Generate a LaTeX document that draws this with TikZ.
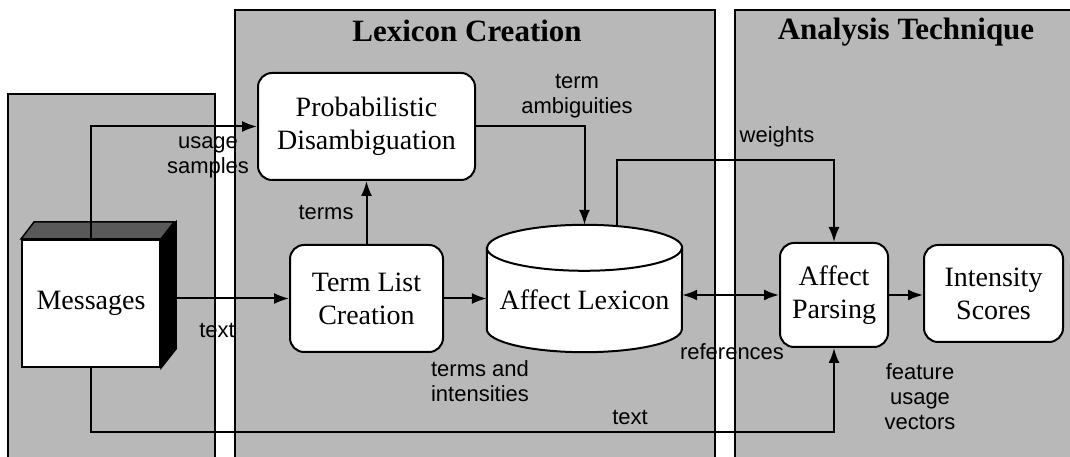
\documentclass[tikz,border=0pt]{standalone}
\usepackage{fontspec}
\setmainfont{Liberation Serif}
\setsansfont{Liberation Sans}
\usetikzlibrary{arrows.meta}
\begin{document}
\begin{tikzpicture}[x=1pt,y=1pt,
  panel/.style={fill=black!28, draw=none},
  border/.style={line width=2pt},
  box/.style={draw, line width=2pt, fill=white, rounded corners=14pt,
    font=\fontsize{28}{33}\selectfont, align=center, inner sep=0pt},
  plain/.style={font=\fontsize{28}{33}\selectfont, align=center, inner sep=0pt},
  lbl/.style={font=\sffamily\fontsize{22}{25}\selectfont, align=center, inner sep=0pt},
  conn/.style={line width=2pt, -{Latex[length=15pt,width=11pt]}},
  ttl/.style={font=\bfseries\fontsize{31}{36}\selectfont, inner sep=0pt}]
\useasboundingbox (0,0) rectangle (1070,457);
\clip (0,0) rectangle (1070,457);
% panels
\fill[panel] (8,-3) rectangle (215,363);
\draw[border] (8,-3) -- (8,363) -- (215,363) -- (215,-3);
\fill[panel] (235,-3) rectangle (715,447);
\draw[border] (235,-3) -- (235,447) -- (715,447) -- (715,-3);
\fill[panel] (735,-3) rectangle (1080,447);
\draw[border] (735,-3) -- (735,447) -- (1080,447);
% titles
\node[ttl] (t1) at (467,426) {Lexicon Creation};
\node[ttl] (t2) at (906,425) {Analysis Technique};
% Messages 3D box
\node[draw, line width=2pt, fill=white, minimum width=138pt, minimum height=127pt,
  inner sep=0pt, font=\fontsize{28}{33}\selectfont] (msg) at (91,153.5) {Messages};
\filldraw[fill=black!65, line width=1.5pt] (msg.north west) -- ++(13,17) -- ++(140,0) -- (msg.north east) -- cycle;
\filldraw[fill=black, line width=1.5pt] (msg.north east) -- ++(15,17) -- ++(0,-127) -- (msg.south east) -- cycle;
% boxes
\node[box, minimum width=217pt, minimum height=107pt] (prob) at (366.5,330.5) {Probabilistic\\Disambiguation};
\node[box, minimum width=153pt, minimum height=107pt] (tl) at (366.5,158.5) {Term List\\Creation};
\node[box, minimum width=108pt, minimum height=104pt] (ap) at (834,162) {Affect\\Parsing};
\node[box, minimum width=139pt, minimum height=97pt] (is) at (993.5,163.5) {Intensity\\Scores};
% cylinder
\node[minimum width=195pt, minimum height=127pt, inner sep=0pt] (lex) at (584.5,168.5) {};
\filldraw[fill=white, line width=2pt] ([yshift=-23pt]lex.north west) -- ([yshift=23pt]lex.south west)
  arc[start angle=180, end angle=360, x radius=97.5pt, y radius=23pt]
  -- ([yshift=-23pt]lex.north east)
  arc[start angle=0, end angle=180, x radius=97.5pt, y radius=23pt] -- cycle;
\draw[line width=2pt] ([yshift=-23pt]lex.north west) arc[start angle=180, end angle=360, x radius=97.5pt, y radius=23pt];
\node[plain] (lextxt) at (584.5,157) {Affect Lexicon};
% coordinates
\coordinate (wstart) at (617,230);
\coordinate (wtop) at (617,297);
\coordinate (btm) at (91,25);
% connectors
\draw[conn] (msg.north) |- (prob.west);
\draw[conn] (msg.east |- tl.west) -- (tl.west);
\draw[conn] (tl.east) -- (lex.west |- tl.east);
\draw[conn] (tl.north) -- (prob.south);
\draw[conn] (prob.east) -| (lex.north);
\draw[conn] (wstart) -- (wtop) -| (ap.north);
\draw[line width=2pt, {Latex[length=15pt,width=11pt]}-{Latex[length=15pt,width=11pt]}] (lex.east |- ap.west) -- (ap.west);
\draw[conn] (ap.east) -- (is.west |- ap.east);
\draw[conn] (msg.south) -- (btm) -| (ap.south);
% labels
\node[lbl] (l1) at (208,300) {usage\\samples};
\node[lbl] (l2) at (217,127) {text};
\node[lbl] (l3) at (326,244) {terms};
\node[lbl] (l4) at (577,361) {term\\ambiguities};
\node[lbl] (l5) at (480,76) {terms and\\intensities};
\node[lbl] (l6) at (777,320) {weights};
\node[lbl] (l7) at (732,105) {references};
\node[lbl] (l8) at (630,40) {text};
\node[lbl] (l9) at (920,60) {feature\\usage\\vectors};
\end{tikzpicture}
\end{document}
